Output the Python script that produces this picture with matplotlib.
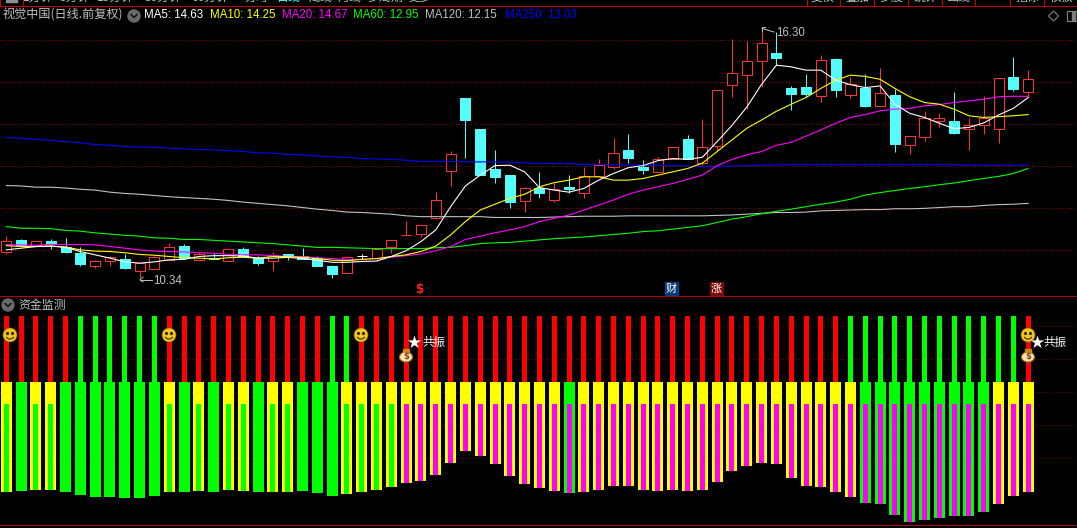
import numpy as np
import matplotlib
matplotlib.use('Agg')
import matplotlib.pyplot as plt
from matplotlib.patches import Circle, Ellipse, Rectangle, Arc, RegularPolygon

plt.rcParams['font.family'] = ['Noto Sans CJK SC', 'DejaVu Sans']

# daily candles
opens = [10.95, 11.23, 11.08, 11.20, 11.07, 10.91, 10.61, 10.73, 10.76, 10.47,
         10.54, 10.74, 11.08, 10.75, 10.79, 10.73, 11.01, 10.79, 10.73, 10.89,
         10.83, 10.79, 10.60, 10.44, 10.83, 10.80, 11.07, 11.35, 11.36, 11.75,
         12.90, 14.65, 13.90, 12.94, 12.79, 12.16, 12.47, 12.18, 12.50, 12.37,
         12.78, 12.98, 13.40, 12.99, 12.87, 13.17, 13.66, 13.08, 13.50, 14.97,
         15.21, 15.55, 15.73, 14.89, 14.91, 14.70, 15.59, 14.73, 14.90, 14.46,
         14.72, 13.52, 13.72, 14.10, 14.09, 13.91, 14.01, 13.91, 15.16, 14.80]
highs = [11.32, 11.26, 11.20, 11.25, 11.28, 11.05, 10.75, 10.83, 10.88, 10.68,
         10.84, 11.16, 11.13, 10.93, 10.91, 11.03, 11.07, 10.84, 10.95, 10.89,
         11.03, 10.83, 10.63, 10.83, 10.89, 11.00, 11.22, 11.69, 11.60, 12.38,
         13.37, 14.65, 13.90, 13.40, 12.79, 12.50, 12.87, 12.61, 12.79, 12.99,
         13.18, 13.69, 13.78, 13.16, 13.23, 13.46, 13.76, 14.14, 14.83, 16.07,
         16.02, 16.30, 16.25, 14.94, 15.23, 15.69, 15.59, 15.15, 15.22, 15.37,
         14.87, 13.73, 14.33, 14.29, 14.79, 14.17, 14.70, 15.12, 15.64, 15.32]
lows = [10.89, 11.08, 11.08, 11.02, 10.92, 10.59, 10.55, 10.61, 10.54, 10.34,
        10.54, 10.74, 10.76, 10.75, 10.76, 10.73, 10.81, 10.63, 10.49, 10.75,
        10.76, 10.60, 10.32, 10.41, 10.76, 10.71, 10.91, 11.35, 11.31, 11.73,
        12.54, 13.20, 12.79, 12.60, 12.00, 11.91, 12.24, 12.14, 12.35, 12.24,
        12.78, 12.94, 13.08, 12.82, 12.87, 13.17, 13.18, 13.02, 13.38, 14.68,
        14.38, 14.92, 15.44, 14.36, 14.68, 14.56, 14.67, 14.65, 14.43, 14.46,
        13.35, 13.31, 13.61, 13.96, 13.77, 13.40, 13.78, 13.57, 14.82, 14.68]
closes = [11.20, 11.10, 11.20, 11.12, 10.94, 10.65, 10.71, 10.81, 10.55, 10.67,
          10.81, 11.05, 10.79, 10.88, 10.76, 11.00, 10.83, 10.67, 10.87, 10.84,
          10.78, 10.60, 10.41, 10.81, 10.83, 11.00, 11.22, 11.35, 11.60, 12.18,
          13.29, 14.13, 12.79, 12.75, 12.15, 12.47, 12.36, 12.45, 12.46, 12.78,
          13.03, 13.32, 13.20, 12.91, 13.18, 13.46, 13.18, 13.46, 14.83, 15.24,
          15.53, 15.97, 15.61, 14.75, 14.75, 15.56, 14.84, 14.99, 14.45, 14.76,
          13.54, 13.73, 14.16, 14.16, 13.81, 14.01, 14.17, 15.12, 14.87, 15.10]

ma5 = [10.99, 11.03, 11.07, 11.08, 11.05, 10.95, 10.87, 10.79, 10.70, 10.67,
       10.70, 10.75, 10.76, 10.83, 10.85, 10.85, 10.84, 10.79, 10.79, 10.81,
       10.78, 10.74, 10.69, 10.69, 10.71, 10.72, 10.83, 10.97, 11.19, 11.47,
       12.03, 12.53, 12.79, 13.02, 13.03, 12.87, 12.49, 12.43, 12.38, 12.47,
       12.67, 12.83, 12.97, 13.02, 13.14, 13.19, 13.17, 13.22, 13.60, 13.99,
       14.43, 14.98, 15.44, 15.40, 15.32, 15.32, 15.08, 14.97, 14.90, 14.94,
       14.50, 14.28, 14.18, 14.04, 13.91, 13.94, 14.05, 14.24, 14.40, 14.66]
ma10 = [11.09, 11.07, 11.07, 11.08, 11.06, 10.99, 10.96, 10.95, 10.92, 10.88,
        10.86, 10.83, 10.80, 10.79, 10.77, 10.80, 10.81, 10.79, 10.83, 10.83,
        10.81, 10.78, 10.74, 10.73, 10.76, 10.78, 10.83, 10.87, 10.95, 11.08,
        11.35, 11.67, 11.95, 12.09, 12.23, 12.33, 12.51, 12.61, 12.67, 12.75,
        12.75, 12.67, 12.67, 12.71, 12.79, 12.87, 12.95, 13.08, 13.36, 13.64,
        13.92, 14.12, 14.33, 14.50, 14.66, 14.88, 15.08, 15.20, 15.17, 15.10,
        14.88, 14.68, 14.54, 14.50, 14.38, 14.22, 14.18, 14.20, 14.22, 14.25]
ma20 = [11.12, 11.11, 11.10, 11.12, 11.12, 11.12, 11.11, 11.07, 11.03, 10.99,
        10.96, 10.95, 10.94, 10.92, 10.91, 10.88, 10.87, 10.87, 10.85, 10.83,
        10.83, 10.80, 10.78, 10.76, 10.76, 10.78, 10.81, 10.85, 10.89, 10.97,
        11.07, 11.24, 11.32, 11.40, 11.47, 11.55, 11.67, 11.75, 11.83, 11.95,
        12.07, 12.19, 12.33, 12.43, 12.51, 12.59, 12.69, 12.79, 13.02, 13.17,
        13.28, 13.36, 13.51, 13.58, 13.73, 13.88, 14.04, 14.18, 14.25, 14.34,
        14.38, 14.40, 14.46, 14.49, 14.54, 14.58, 14.62, 14.68, 14.69, 14.69]
ma60 = [11.55, 11.51, 11.51, 11.50, 11.46, 11.44, 11.40, 11.37, 11.34, 11.32,
        11.28, 11.27, 11.24, 11.24, 11.22, 11.20, 11.18, 11.16, 11.14, 11.11,
        11.08, 11.05, 11.05, 11.04, 11.03, 11.02, 11.02, 11.02, 11.02, 11.04,
        11.05, 11.09, 11.14, 11.16, 11.17, 11.20, 11.23, 11.26, 11.28, 11.30,
        11.33, 11.36, 11.39, 11.43, 11.45, 11.49, 11.53, 11.57, 11.65, 11.73,
        11.79, 11.86, 11.92, 11.97, 12.03, 12.09, 12.14, 12.21, 12.31, 12.37,
        12.42, 12.47, 12.51, 12.56, 12.60, 12.66, 12.71, 12.76, 12.83, 12.95]
ma120 = [12.54, 12.53, 12.50, 12.50, 12.48, 12.45, 12.43, 12.38, 12.35, 12.33,
         12.30, 12.27, 12.25, 12.23, 12.21, 12.18, 12.14, 12.11, 12.08, 12.05,
         12.01, 11.97, 11.94, 11.90, 11.89, 11.87, 11.85, 11.81, 11.79, 11.79,
         11.79, 11.79, 11.79, 11.77, 11.77, 11.77, 11.77, 11.78, 11.79, 11.80,
         11.80, 11.80, 11.81, 11.81, 11.81, 11.81, 11.81, 11.81, 11.82, 11.83,
         11.85, 11.87, 11.89, 11.89, 11.90, 11.93, 11.94, 11.95, 11.96, 11.96,
         11.98, 11.98, 11.99, 12.01, 12.03, 12.03, 12.06, 12.08, 12.09, 12.11]
ma250 = [13.70, 13.68, 13.65, 13.63, 13.60, 13.57, 13.53, 13.51, 13.48, 13.47,
         13.46, 13.44, 13.42, 13.41, 13.40, 13.38, 13.36, 13.33, 13.32, 13.29,
         13.28, 13.25, 13.23, 13.22, 13.19, 13.18, 13.17, 13.15, 13.12, 13.12,
         13.12, 13.11, 13.11, 13.11, 13.10, 13.09, 13.07, 13.07, 13.07, 13.05,
         13.05, 13.04, 13.04, 13.03, 13.03, 13.02, 13.01, 13.00, 13.00, 13.01,
         13.02, 13.03, 13.04, 13.04, 13.04, 13.04, 13.04, 13.04, 13.04, 13.04,
         13.04, 13.04, 13.04, 13.04, 13.04, 13.03, 13.03, 13.03, 13.03, 13.03]

price_grid = [16.03, 15.02, 14.01, 12.99, 11.98, 10.96]

legend_labels = ['MA5: 14.63', 'MA10: 14.25', 'MA20: 14.67', 'MA60: 12.95', 'MA120: 12.15', 'MA250: 13.03']

# 资金监测 panel, 1 = first colour of each layer
flow_up = [1, 1, 1, 1, 1, 0, 0, 0, 0, 0, 0, 1, 1, 1, 1, 1, 1, 1, 1, 1, 1, 1, 0, 0,
           1, 1, 1, 1, 1, 1, 1, 1, 1, 1, 1, 1, 1, 1, 1, 1, 1, 1, 1, 1, 1, 1, 1, 1,
           1, 1, 1, 1, 1, 1, 1, 1, 1, 0, 0, 0, 0, 0, 0, 0, 0, 0, 0, 0, 0, 1]
outer_up = [1, 0, 1, 1, 0, 0, 0, 0, 0, 0, 0, 1, 0, 1, 0, 1, 1, 0, 1, 1, 0, 0, 0, 1,
            1, 1, 1, 1, 1, 1, 1, 1, 1, 1, 1, 1, 1, 1, 0, 1, 1, 1, 1, 1, 1, 1, 1, 1,
            1, 1, 1, 1, 1, 1, 1, 1, 1, 1, 0, 0, 0, 0, 0, 0, 0, 0, 0, 1, 1, 1]
inner_up = [0] * 27 + [1] * 43
bar_bottom = [-19.8, -19.2, -18.6, -18.6, -19.8, -21.6, -22.8, -22.8, -23.4, -23.4,
              -22.2, -19.8, -19.8, -19.2, -19.8, -18.6, -19.2, -19.8, -19.8, -19.8,
              -19.2, -20.4, -22.2, -21.0, -19.8, -18.6, -16.7, -14.3, -13.1, -9.5,
              -2.2, 5.1, 2.0, -2.8, -10.1, -14.9, -17.3, -19.2, -20.4, -19.8,
              -18.6, -16.1, -16.1, -18.6, -19.2, -18.6, -19.2, -18.6, -13.7, -7.0,
              -4.0, -2.2, -2.8, -11.3, -16.1, -16.7, -19.8, -22.8, -26.4, -27.0,
              -33.7, -38.0, -36.7, -35.5, -34.3, -34.3, -31.9, -27.0, -22.2, -19.8]
flow_top = 86.9
flow_base = 46.9
inner_top = 33.5
flow_grid = [80, 60, 40, 20, 0]

W, H = 1077, 528
RED = '#FF3232'
CYAN = '#54FCFC'
GRAY = '#C0C0C0'
GRID = '#8C0000'
LINE = '#B80000'
ma_colors = ['white', '#FFFF00', '#FF00FF', '#00FF00', GRAY, '#0000FF']

fig = plt.figure(figsize=(W / 100, H / 100), dpi=100, facecolor='black')

def panel(top, bottom):
    ax = fig.add_axes([0, 1 - bottom / H, 1, (bottom - top) / H])
    ax.set_facecolor('black')
    ax.set_xlim(-6.3 / 14.81, (W - 6.3) / 14.81)
    ax.axis('off')
    return ax

x = np.arange(len(opens))
dot_x = (np.arange(0, W, 3) - 6.3) / 14.81

# ---- price panel
ax1 = panel(6, 296)
ax1.set_ylim(9.878, 16.866)
for g in price_grid:
    ax1.plot(dot_x, [g] * len(dot_x), ',', color=GRID, zorder=1)

for i in x:
    up = closes[i] >= opens[i]
    doji = opens[i] == closes[i] and highs[i] > opens[i] and lows[i] < opens[i]
    c = 'white' if doji else (RED if up else CYAN)
    ax1.vlines(i, lows[i], highs[i], color=c, lw=0.72, zorder=2)
    bottom = min(opens[i], closes[i])
    height = max(abs(closes[i] - opens[i]), 0.001)
    if up:
        ax1.bar(i, height, bottom=bottom, width=0.68, facecolor='black', edgecolor=c, linewidth=0.72, zorder=3)
    else:
        ax1.bar(i, height, bottom=bottom, width=0.68, facecolor=c, edgecolor=c, linewidth=0.72, zorder=3)

for vals, col in zip([ma250, ma120, ma60, ma20, ma10, ma5], ma_colors[::-1]):
    ax1.plot(x, vals, color=col, lw=0.8, zorder=4)

# ---- flow panel
ax2 = panel(296, 525)
ax2.set_ylim((459.3 - 525) * 0.606, (459.3 - 296) * 0.606)
for g in flow_grid:
    ax2.plot(dot_x, [g] * len(dot_x), ',', color='#6E0000', zorder=1)

bottoms = np.array(bar_bottom)
ax2.bar(x, flow_top - flow_base, bottom=flow_base, width=5 / 14.81,
        color=['#FF0000' if v else '#00FF00' for v in flow_up], zorder=2)
ax2.bar(x, flow_base - bottoms, bottom=bottoms, width=11 / 14.81,
        color=['#FFFF00' if v else '#00FF00' for v in outer_up], zorder=3)
ax2.bar(x, inner_top - bottoms, bottom=bottoms, width=5 / 14.81,
        color=['#FF00FF' if v else '#00FF00' for v in inner_up], zorder=4)

# ---- chrome, labels and icons in screen pixels
ov = fig.add_axes([0, 0, 1, 1], zorder=5)
ov.set_xlim(0, W)
ov.set_ylim(H, 0)
ov.axis('off')
ov.patch.set_alpha(0)

for y, col in [(6, '#C80000'), (296, LINE), (525, LINE)]:
    ov.add_patch(Rectangle((0, y), W, 1, facecolor=col, linewidth=0))

# toolbar row, only the lower edge of it shows
for dx in [0, 23, 807, 840, 874, 908, 942, 975, 1010, 1044]:
    ov.add_patch(Rectangle((dx, 0), 1, 6, facecolor='#C80000', linewidth=0))
ov.add_patch(Rectangle((6, 0), 11, 2, color='#909090'))
clip = Rectangle((0, 0), W, 5, transform=ov.transData)
tabs = [(38, '1分钟', GRAY), (75, '5分钟', GRAY), (115, '15分钟', GRAY), (163, '30分钟', GRAY),
        (210, '60分钟', GRAY), (256, '分时', GRAY), (289, '日线', CYAN), (320, '周线', GRAY),
        (350, '月线', GRAY), (385, '多周期', GRAY), (420, '更多', GRAY),
        (823, '复权', GRAY), (857, '叠加', GRAY), (891, '多股', GRAY), (925, '统计', GRAY),
        (959, '画线', GRAY), (1027, '指标', GRAY), (1061, '模板', GRAY)]
for tx, label, col in tabs:
    t = ov.text(tx, -2.5, label, color=col, fontsize=8.6, ha='center', va='center')
    t.set_clip_path(clip)

ov.text(3, 15.5, '视觉中国(日线.前复权)', color=GRAY, fontsize=8.7, va='center')

def chevron_dot(cx, cy):
    ov.add_patch(Circle((cx, cy), 6, color='#6A6A6A'))
    ov.plot([cx - 3, cx, cx + 3], [cy - 1.5, cy + 1.5, cy - 1.5], color='#111111', lw=1.1)

chevron_dot(134, 16)
chevron_dot(8, 305)
ov.text(18, 305, '资金监测', color=GRAY, fontsize=8.6, va='center')

legend_x = [144, 210, 282, 353, 425, 505]
for lx, lab, col in zip(legend_x, legend_labels, ma_colors):
    ov.text(lx, 15.5, lab, color=col, fontsize=8.3, family='Liberation Sans', va='center')

ov.add_patch(RegularPolygon((1053.5, 16), 4, radius=5, orientation=0, fill=False, edgecolor='#808080', lw=0.8))
ov.add_patch(Rectangle((1067, 11), 10, 10, fill=False, edgecolor='#808080', lw=0.9))
ov.add_patch(Rectangle((1072, 12), 3, 8, color='#808080'))

# high and low markers
ov.text(153, 280.5, '10.34', color=GRAY, fontsize=8.3, family='Liberation Sans', va='center')
ov.plot([140, 152], [279.5, 279.5], color=GRAY, lw=0.7)
ov.plot([143, 140, 143], [277, 279.5, 282], color=GRAY, lw=0.7)
ov.text(776, 32.5, '16.30', color=GRAY, fontsize=8.3, family='Liberation Sans', va='center')
ov.plot([762, 774], [28.5, 32], color=GRAY, lw=0.7)
ov.plot([762, 762, 765], [31, 27, 27], color=GRAY, lw=0.7)

# event tags under the price panel
ov.text(419.5, 289.5, '$', color='#FF2020', fontsize=8.5, family='DejaVu Sans', fontweight='bold', ha='center', va='center')
ov.add_patch(Rectangle((665, 282), 13, 13, color='#0A3C78'))
ov.text(671.5, 288.5, '财', color='white', fontsize=8, ha='center', va='center')
ov.add_patch(Rectangle((710, 282), 13, 13, color='#7A0A0A'))
ov.text(716.5, 288.5, '涨', color='white', fontsize=8, ha='center', va='center')

def smile(cx, cy):
    ov.add_patch(Circle((cx, cy), 7, facecolor='#F2C81E', edgecolor='#8A6A10', lw=0.5, zorder=6))
    ov.add_patch(Circle((cx - 2.5, cy - 1.5), 0.9, color='#3A2A00', zorder=7))
    ov.add_patch(Circle((cx + 2.5, cy - 1.5), 0.9, color='#3A2A00', zorder=7))
    ov.add_patch(Arc((cx, cy + 0.5), 8, 7, theta1=20, theta2=160, color='#3A2A00', lw=0.8, zorder=7))

def money_bag(cx, cy):
    ov.add_patch(Ellipse((cx, cy + 1), 13, 10, facecolor='#FBE7B0', edgecolor='#A06A10', lw=0.8, zorder=6))
    ov.add_patch(Rectangle((cx - 3, cy - 7), 6, 3, color='#C88A18', zorder=6))
    ov.text(cx, cy + 1, '$', color='#8A3A20', fontsize=6, family='DejaVu Sans', fontweight='bold',
            ha='center', va='center', zorder=7)

for sx in [10, 169, 361, 1028]:
    smile(sx, 335)
for bx in [406, 1028]:
    money_bag(bx, 356)
for sx, tx in [(414, 422), (1036.5, 1043)]:
    ov.scatter([sx], [342], marker='*', s=100, color='white', linewidths=0, zorder=8)
    ov.text(tx, 342, '共振', color='white', fontsize=8.3, va='center', zorder=8)

fig.savefig('out.png', dpi=100, facecolor='black')
